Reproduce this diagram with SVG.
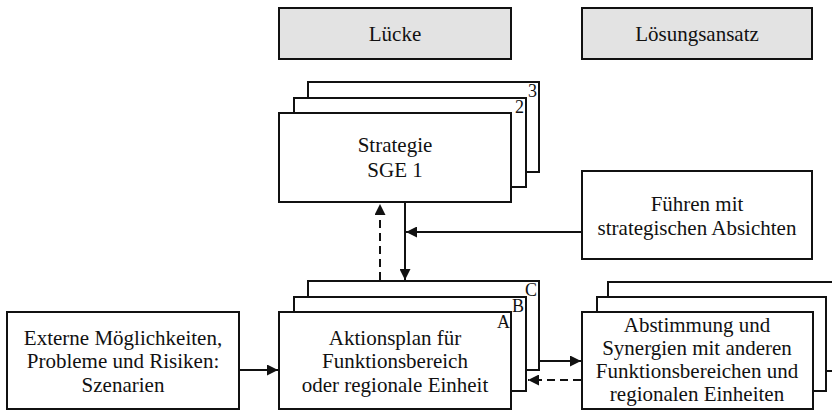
<svg xmlns="http://www.w3.org/2000/svg" width="832" height="411" viewBox="0 0 832 411">
<defs>
<style>
.box{fill:#fff;stroke:#111;stroke-width:2}
.hdr{fill:#e3e3e3;stroke:#111;stroke-width:2}
.t{font-family:"Liberation Serif","Times New Roman",serif;font-size:21px;fill:#111;text-anchor:middle}
.lbl{font-family:"Liberation Serif","Times New Roman",serif;font-size:18px;fill:#111;text-anchor:end}
.ln{fill:none;stroke:#111;stroke-width:2}
.dash{stroke-dasharray:8 5}
</style>
<marker id="ah" viewBox="0 0 10 10" refX="10" refY="5" markerWidth="6" markerHeight="5.5" orient="auto" markerUnits="strokeWidth">
<path d="M0,0 L10,5 L0,10 z" fill="#111"/>
</marker>
</defs>
<rect width="832" height="411" fill="#fff"/>

<g id="luecke">
<rect class="hdr" x="279" y="8" width="232" height="51"/>
<text class="t" x="395" y="41">Lücke</text>
</g>

<g id="loesungsansatz">
<rect class="hdr" x="582" y="8" width="230" height="51"/>
<text class="t" x="697" y="41">Lösungsansatz</text>
</g>

<g id="strategie">
<rect class="box" x="308" y="82" width="231" height="90"/>
<rect class="box" x="294" y="98" width="232" height="89"/>
<rect class="box" x="279" y="113" width="232" height="89"/>
<text class="lbl" x="537" y="97">3</text>
<text class="lbl" x="524" y="113">2</text>
<text class="t" x="395" y="152">Strategie</text>
<text class="t" x="395" y="177">SGE 1</text>
</g>

<g id="fuehren">
<rect class="box" x="582" y="171" width="230" height="88"/>
<text class="t" x="697" y="211">Führen mit</text>
<text class="t" x="697" y="235">strategischen Absichten</text>
</g>

<g id="externe">
<rect class="box" x="7" y="312" width="232" height="97"/>
<text class="t" x="123" y="345">Externe Möglichkeiten,</text>
<text class="t" x="123" y="368">Probleme und Risiken:</text>
<text class="t" x="123" y="392">Szenarien</text>
</g>

<g id="aktionsplan">
<rect class="box" x="308" y="281" width="231" height="89"/>
<rect class="box" x="294" y="297" width="232" height="94"/>
<rect class="box" x="279" y="312" width="232" height="97"/>
<text class="lbl" x="537" y="296">C</text>
<text class="lbl" x="524" y="312">B</text>
<text class="lbl" x="510" y="328">A</text>
<text class="t" x="395" y="345">Aktionsplan für</text>
<text class="t" x="395" y="368">Funktionsbereich</text>
<text class="t" x="395" y="392">oder regionale Einheit</text>
</g>

<g id="abstimmung">
<rect class="box" x="608" y="282" width="250" height="89"/>
<rect class="box" x="597" y="297" width="229" height="94"/>
<rect class="box" x="582" y="312" width="231" height="97"/>
<text class="t" x="697" y="332">Abstimmung und</text>
<text class="t" x="697" y="355">Synergien mit anderen</text>
<text class="t" x="697" y="378">Funktionsbereichen und</text>
<text class="t" x="697" y="401">regionalen Einheiten</text>
</g>

<g id="connectors">
<line class="ln dash" x1="380" y1="280" x2="380" y2="204" marker-end="url(#ah)"/>
<line class="ln" x1="405" y1="203" x2="405" y2="280" marker-end="url(#ah)"/>
<line class="ln" x1="581" y1="232" x2="406" y2="232" marker-end="url(#ah)"/>
<line class="ln" x1="240" y1="370" x2="278" y2="370" marker-end="url(#ah)"/>
<line class="ln" x1="540" y1="361" x2="581" y2="361" marker-end="url(#ah)"/>
<line class="ln dash" x1="581" y1="380" x2="528" y2="380" marker-end="url(#ah)"/>
</g>
</svg>
